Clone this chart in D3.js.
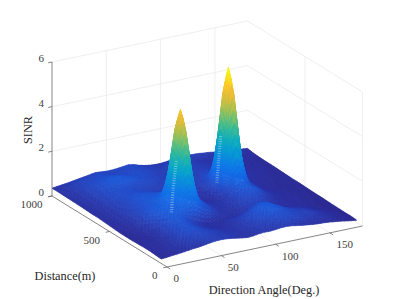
<!DOCTYPE html>
<html>
<head>
<meta charset="utf-8">
<script src="https://cdn.jsdelivr.net/npm/d3@7"></script>
<style>
  html, body { margin: 0; padding: 0; background: #fff; }
  svg { display: block; }
  text { font-family: "Liberation Serif", "Times New Roman", serif; }
</style>
</head>
<body>
<div id="chart"></div>
<script>
// tick labels
var angleTicks = [0, 50, 100, 150];
var distanceTicks = [0, 500, 1000];
var sinrTicks = [0, 2, 4, 6];

// grid of the surface
var angles = [0,5,10,15,20,25,30,35,40,45,50,55,60,65,70,75,80,85,90,95,100,105,110,115,120,125,130,135,140,145,150,155,160,165,170,175,180];
var distances = [50,100,150,200,250,300,350,400,450,500,550,600,650,700,750,800,850,900,950,1000];

// SINR, one row per distance, one column per angle
var sinr = [
  [.20,.22,.25,.27,.30,.33,.36,.38,.42,.46,.49,.50,.49,.46,.42,.38,.35,.37,.41,.43,.42,.44,.47,.48,.46,.42,.38,.35,.32,.30,.29,.27,.24,.21,.17,.13,.10],
  [.22,.24,.27,.31,.36,.42,.48,.54,.58,.60,.58,.55,.52,.48,.44,.42,.41,.43,.46,.50,.54,.58,.62,.66,.68,.66,.62,.56,.50,.46,.42,.38,.32,.26,.20,.16,.12],
  [.24,.25,.28,.33,.40,.50,.60,.68,.72,.70,.64,.58,.52,.46,.42,.40,.42,.46,.52,.58,.66,.74,.80,.84,.82,.76,.68,.62,.58,.56,.50,.42,.34,.26,.20,.16,.12],
  [.24,.25,.27,.32,.40,.52,.66,.76,.80,.74,.64,.54,.46,.40,.36,.36,.40,.46,.54,.64,.74,.84,.92,.94,.90,.80,.68,.60,.54,.50,.44,.36,.28,.22,.18,.15,.12],
  [.23,.24,.26,.30,.38,.52,.68,.80,.84,.76,.62,.48,.38,.32,.30,.32,.36,.42,.48,.56,.66,.78,.90,.92,.86,.72,.58,.48,.42,.38,.34,.30,.24,.20,.17,.15,.13],
  [.22,.23,.25,.29,.38,.52,.70,.86,.92,.86,.72,.58,.46,.36,.30,.30,.32,.34,.34,.32,.34,.42,.54,.62,.62,.54,.44,.36,.32,.30,.28,.26,.22,.19,.17,.15,.14],
  [.22,.23,.25,.30,.42,.58,.78,.94,1.02,1.05,1.05,1.15,1.22,1.05,.83,.73,.54,.44,.38,.36,.40,.46,.52,.58,.60,.56,.48,.40,.34,.30,.28,.27,.24,.21,.18,.16,.15],
  [.22,.24,.28,.36,.50,.70,.88,1.00,1.06,1.17,1.48,2.46,3.14,2.34,1.26,.83,.68,.50,.42,.40,.44,.52,.60,.68,.72,.70,.60,.48,.38,.32,.28,.27,.25,.22,.19,.17,.15],
  [.24,.26,.32,.40,.52,.68,.82,.92,.98,1.20,1.82,3.67,5.00,3.58,1.64,.92,.70,.50,.42,.38,.42,.52,.66,.78,.88,.90,.80,.62,.46,.36,.30,.27,.25,.23,.20,.18,.16],
  [.26,.28,.34,.42,.54,.66,.76,.84,.90,1.05,1.38,2.37,3.07,2.29,1.22,.81,.56,.42,.36,.34,.36,.47,.62,.90,1.09,.94,.72,.63,.44,.34,.28,.25,.23,.22,.20,.18,.17],
  [.28,.30,.36,.44,.54,.64,.74,.82,.86,.91,.91,1.01,1.08,.91,.69,.59,.44,.36,.32,.32,.36,.59,1.12,2.50,3.47,2.50,1.16,.65,.42,.32,.26,.24,.23,.22,.20,.19,.18],
  [.30,.32,.38,.46,.54,.64,.72,.80,.84,.84,.84,.84,.82,.74,.62,.52,.44,.40,.38,.40,.44,.72,1.61,4.05,5.80,4.03,1.59,.67,.44,.34,.28,.26,.24,.23,.21,.19,.18],
  [.30,.33,.40,.48,.56,.64,.70,.76,.78,.78,.76,.72,.66,.60,.54,.50,.46,.42,.42,.44,.50,.63,1.12,2.44,3.37,2.40,1.06,.57,.42,.34,.30,.27,.25,.24,.22,.20,.19],
  [.31,.34,.40,.50,.60,.68,.74,.76,.74,.70,.64,.60,.56,.54,.52,.50,.48,.46,.46,.48,.52,.59,.68,.86,1.01,.82,.58,.47,.40,.36,.32,.29,.27,.25,.23,.21,.20],
  [.32,.35,.42,.52,.62,.70,.76,.78,.76,.72,.68,.66,.64,.62,.60,.56,.52,.50,.48,.50,.52,.56,.60,.64,.66,.62,.54,.46,.40,.36,.33,.30,.28,.26,.24,.22,.21],
  [.33,.37,.44,.54,.64,.74,.82,.86,.88,.90,.88,.84,.78,.72,.68,.62,.58,.54,.50,.50,.52,.54,.56,.58,.58,.54,.48,.44,.40,.36,.32,.30,.28,.26,.24,.23,.22],
  [.34,.38,.46,.56,.66,.74,.80,.84,.88,.90,.86,.80,.76,.74,.70,.66,.60,.56,.52,.52,.54,.56,.56,.56,.54,.50,.46,.42,.38,.34,.30,.28,.26,.25,.24,.23,.22],
  [.34,.40,.48,.56,.62,.68,.72,.76,.78,.76,.72,.70,.70,.72,.72,.68,.62,.58,.54,.54,.56,.58,.58,.56,.52,.48,.44,.40,.36,.32,.30,.28,.26,.25,.24,.24,.23],
  [.35,.40,.48,.54,.60,.64,.66,.68,.68,.66,.64,.64,.66,.70,.70,.66,.60,.56,.52,.52,.54,.56,.56,.54,.50,.46,.42,.38,.36,.34,.32,.30,.28,.27,.26,.26,.25],
  [.35,.38,.41,.44,.48,.52,.56,.60,.64,.62,.60,.60,.62,.65,.68,.64,.56,.50,.46,.44,.44,.46,.50,.54,.56,.56,.54,.53,.50,.48,.44,.42,.40,.38,.34,.32,.30]
];

// finer readings around the first peak
var peak1Angles = [45,47.5,50,52.5,55,57.5,60,62.5,65,67.5,70,72.5,75];
var peak1Distances = [350,375,400,425,450,475,500,525,550];
var peak1Sinr = [
  [1.05,1.04,1.05,1.09,1.15,1.22,1.22,1.16,1.05,.93,.83,.78,.73],
  [1.10,1.13,1.21,1.39,1.64,1.85,1.92,1.79,1.52,1.22,.99,.85,.76],
  [1.17,1.26,1.48,1.89,2.46,2.95,3.14,2.89,2.34,1.72,1.26,.98,.83],
  [1.20,1.35,1.73,2.39,3.30,4.11,4.43,4.05,3.20,2.23,1.51,1.09,.88],
  [1.20,1.38,1.82,2.60,3.67,4.62,5.00,4.58,3.58,2.47,1.64,1.16,.92],
  [1.13,1.29,1.67,2.34,3.26,4.07,4.40,4.03,3.18,2.22,1.51,1.08,.88],
  [1.05,1.15,1.38,1.79,2.37,2.87,3.07,2.83,2.29,1.67,1.22,.95,.81],
  [.97,1.01,1.09,1.27,1.52,1.74,1.82,1.69,1.43,1.12,.90,.76,.68],
  [.91,.90,.91,.95,1.01,1.08,1.08,1.02,.91,.79,.69,.64,.59]
];

// finer readings around the second peak
var peak2Angles = [105,107.5,110,112.5,115,117.5,120,122.5,125,127.5,130,132.5,135];
var peak2Distances = [500,525,550,575,600,625,650,675,700];
var peak2Sinr = [
  [.47,.53,.62,.75,.90,1.03,1.09,1.05,.94,.82,.72,.66,.63],
  [.53,.64,.82,1.12,1.50,1.83,1.98,1.85,1.52,1.16,.88,.72,.63],
  [.59,.77,1.12,1.71,2.50,3.18,3.47,3.18,2.50,1.73,1.16,.81,.65],
  [.66,.93,1.47,2.36,3.56,4.63,5.09,4.63,3.56,2.36,1.47,.93,.66],
  [.72,1.01,1.61,2.65,4.05,5.28,5.80,5.27,4.03,2.63,1.59,.97,.67],
  [.68,.93,1.45,2.34,3.53,4.59,5.03,4.57,3.50,2.30,1.41,.89,.64],
  [.63,.79,1.12,1.69,2.44,3.10,3.37,3.08,2.40,1.63,1.06,.73,.57],
  [.59,.68,.84,1.10,1.44,1.75,1.88,1.73,1.40,1.04,.76,.60,.51],
  [.59,.63,.68,.77,.86,.97,1.01,.95,.82,.69,.58,.51,.47]
];

// the pale speckled streaks on the left flank of each peak: angle, distance, SINR
var peak1Streak = [[46.5,400,.7],[48,400,1.7],[51,400,3]];
var peak2Streak = [[109.5,600,.75],[111,600,1.7],[113,600,2.8]];

// parula, a bit darker at the low end like the lit surface
var parulaStops = ["#2a2488","#2a33a8","#2150d0","#1468e4","#1078ea","#0c8ade","#07a0d0","#10adc0","#2cb8a0","#5abf80","#8fc25e","#c0bf45","#e8bb38","#fcc52e","#f6e01e","#f9f90f"];

var width = 399, height = 299;
var svg = d3.select("#chart").append("svg")
    .attr("width", width)
    .attr("height", height);

// the three axes of the box, as pixel offsets from its front corner
var origin = {x: 167, y: 267};
var angleX = d3.scaleLinear().domain([0, 180]).range([0, 195.5]);
var angleY = d3.scaleLinear().domain([0, 180]).range([0, 41]);
var distX = d3.scaleLinear().domain([0, 1000]).range([0, 115]);
var distY = d3.scaleLinear().domain([0, 1000]).range([0, 71]);
var zY = d3.scaleLinear().domain([0, 6]).range([0, 134]);

var color = d3.scaleQuantize()
    .domain([0, 5.7])
    .range(d3.quantize(d3.interpolateRgbBasis(parulaStops), 96));

function project(a, d, z) {
  return [origin.x + angleX(a) - distX(d), origin.y - angleY(a) - distY(d) - zY(z)];
}

function line3(g, p, q) {
  var s = project(p[0], p[1], p[2]), e = project(q[0], q[1], q[2]);
  return g.append("line")
      .attr("x1", s[0]).attr("y1", s[1])
      .attr("x2", e[0]).attr("y2", e[1]);
}

// ****************** Grid ***************************
var grid = svg.append("g")
    .attr("stroke", "#ebebeb")
    .attr("stroke-width", 0.8)
    .attr("fill", "none");

sinrTicks.forEach((z) => {
  line3(grid, [0, 1000, z], [180, 1000, z]);
  line3(grid, [180, 1000, z], [180, 0, z]);
});
angleTicks.slice(1).forEach((a) => {
  line3(grid, [a, 0, 0], [a, 1000, 0]);
  line3(grid, [a, 1000, 0], [a, 1000, 6]);
});
line3(grid, [0, 500, 0], [180, 500, 0]);
line3(grid, [180, 500, 0], [180, 500, 6]);
line3(grid, [180, 0, 0], [180, 0, 6]);

// ****************** Surface ***************************
// like shading interp: facets come from the tables, each one coloured in steps
var facets = [];

function addFacets(xs, ys, zs, steps, skip) {
  for (var i = 0; i < ys.length - 1; i++) {
    for (var j = 0; j < xs.length - 1; j++) {
      if (skip && skip(xs[j], ys[i])) continue;
      for (var u = 0; u < steps; u++) {
        for (var v = 0; v < steps; v++) {
          var corners = [[u, v], [u, v + 1], [u + 1, v + 1], [u + 1, v]]
            .map((c) => facetPoint(xs, ys, zs, i, j, c[0] / steps, c[1] / steps));
          var mid = facetPoint(xs, ys, zs, i, j, (u + 0.5) / steps, (v + 0.5) / steps);
          facets.push({
            path: "M" + corners.map((c) => project(c.a, c.d, c.z).join(",")).join("L") + "Z",
            z: mid.z,
            depth: project(mid.a, mid.d, 0)[1]
          });
        }
      }
    }
  }
}

function facetPoint(xs, ys, zs, i, j, tu, tv) {
  return {
    a: xs[j] + tv * (xs[j + 1] - xs[j]),
    d: ys[i] + tu * (ys[i + 1] - ys[i]),
    z: (1 - tu) * ((1 - tv) * zs[i][j] + tv * zs[i][j + 1]) +
       tu * ((1 - tv) * zs[i + 1][j] + tv * zs[i + 1][j + 1])
  };
}

function inPeak(xs, ys) {
  return (a, d) => a >= xs[0] && a < xs[xs.length - 1] && d >= ys[0] && d < ys[ys.length - 1];
}

var inPeak1 = inPeak(peak1Angles, peak1Distances);
var inPeak2 = inPeak(peak2Angles, peak2Distances);

addFacets(angles, distances, sinr, 4, (a, d) => inPeak1(a, d) || inPeak2(a, d));
addFacets(peak1Angles, peak1Distances, peak1Sinr, 3);
addFacets(peak2Angles, peak2Distances, peak2Sinr, 3);

// far facets first; on this view depth follows the y of the point on the floor
facets.sort((p, q) => p.depth - q.depth);

svg.append("g").selectAll("path")
  .data(facets)
  .join("path")
    .attr("d", (f) => f.path)
    .attr("fill", (f) => color(f.z))
    .attr("stroke", (f) => color(f.z))
    .attr("stroke-width", 0.6)
    .attr("stroke-linejoin", "round");

var streak = d3.line().curve(d3.curveCatmullRom);
svg.append("g").selectAll("path")
  .data([peak1Streak, peak2Streak])
  .join("path")
    .attr("d", (s) => streak(s.map((p) => project(p[0], p[1], p[2]))))
    .attr("fill", "none")
    .attr("stroke", "#fff")
    .attr("stroke-opacity", 0.35)
    .attr("stroke-width", 3.2)
    .attr("stroke-dasharray", "1 1.4");

// ****************** Axes ***************************
var axes = svg.append("g")
    .attr("stroke", "#666")
    .attr("stroke-width", 0.8)
    .attr("fill", "none");

line3(axes, [0, 0, 0], [180, 0, 0]);
line3(axes, [0, 0, 0], [0, 1000, 0]);
line3(axes, [0, 1000, 0], [0, 1000, 6]);

angleTicks.forEach((a) => { line3(axes, [a, 0, 0], [a, -28, 0]); });
distanceTicks.forEach((d) => { line3(axes, [0, d, 0], [-3.5, d, 0]); });
sinrTicks.forEach((z) => { line3(axes, [0, 1000, z], [-3.5, 1000, z]); });

function label(txt, x, y, size, fill, anchor) {
  return svg.append("text")
      .attr("x", x)
      .attr("y", y)
      .attr("dy", ".35em")
      .attr("text-anchor", anchor || "middle")
      .attr("font-size", size)
      .attr("fill", fill)
      .text(txt);
}

sinrTicks.forEach((z) => {
  var p = project(0, 1000, z);
  label(z, p[0] - 8, p[1] - 4, 11, "#404040", "end");
});
distanceTicks.forEach((d) => {
  var p = project(0, d, 0);
  label(d, p[0] - 9.5, p[1] + 8.5, 11, "#404040", "end");
});
angleTicks.forEach((a) => {
  var p = project(a, 0, 0);
  label(a, p[0] + 6.5, p[1] + 11.5, 11, "#404040", "start");
});

label("Direction Angle(Deg.)", 264, 290, 12.3, "#262626");
label("Distance(m)", 65, 276, 12.3, "#262626");
label("SINR", 0, 0, 12.3, "#262626")
    .attr("transform", "translate(28,130) rotate(-90)");
</script>
</body>
</html>
